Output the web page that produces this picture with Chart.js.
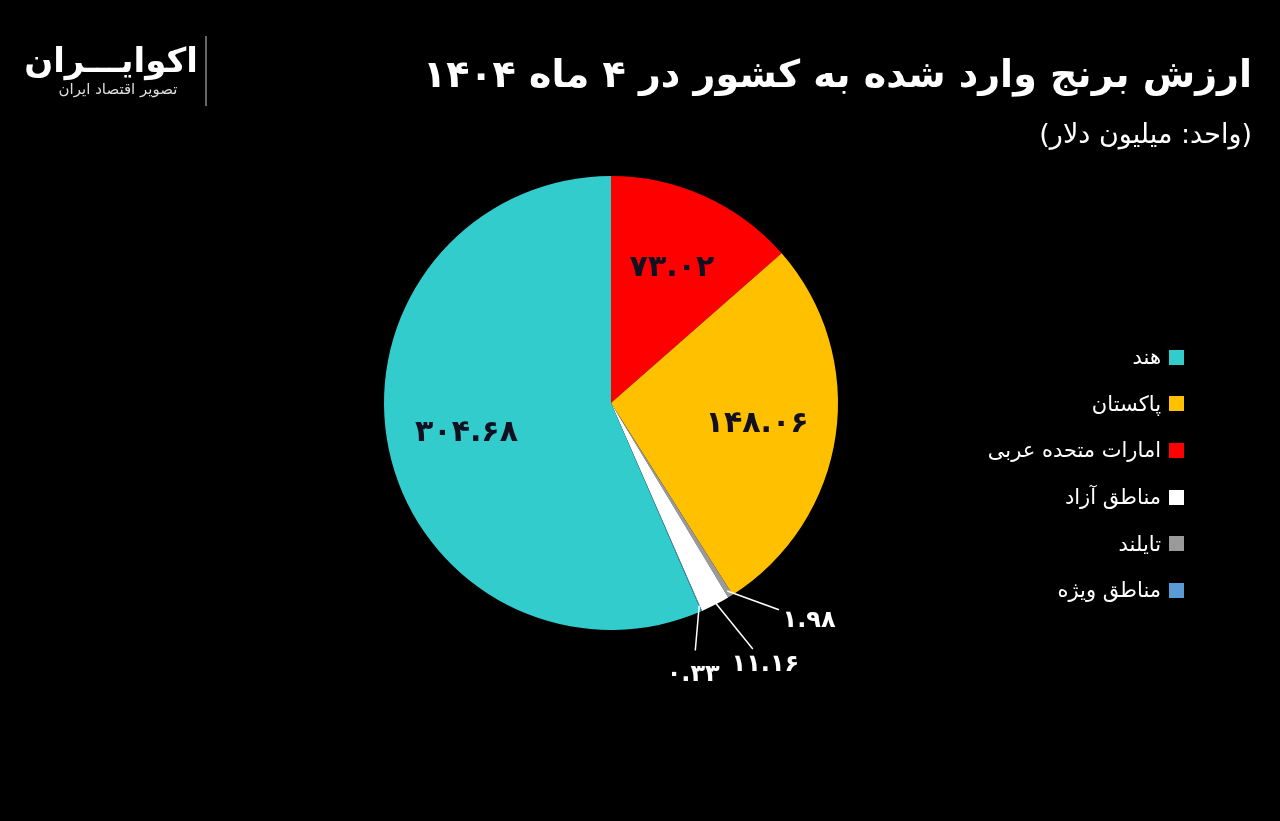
<!DOCTYPE html>
<html lang="fa">
<head>
<meta charset="UTF-8">
<title>ارزش برنج وارد شده</title>
<script src="https://cdn.jsdelivr.net/npm/chart.js"></script>
<style>
    body { margin: 0; width: 1280px; height: 821px; background: #000; overflow: hidden; font-family: 'DejaVu Sans', sans-serif; color: #fff; }
    #wrap { position: absolute; left: 0; top: 0; width: 1280px; height: 821px; }
    .title { position: absolute; right: 28px; top: 52px; font-size: 38px; font-weight: bold; direction: rtl; }
    .sub { position: absolute; right: 28px; top: 118px; font-size: 27px; direction: rtl; }
    .logo { position: absolute; left: 38px; top: 40px; width: 160px; direction: rtl; text-align: center; }
    .logo .name { font-size: 34px; font-weight: bold; }
    .logo .tag { font-size: 15px; color: #ddd; }
    .mark { position: absolute; left: 205px; top: 36px; width: 2px; height: 70px; background: #666; }
    #legend { position: absolute; right: 96px; top: 334px; direction: rtl; }
    .item { display: flex; align-items: center; height: 46.6px; font-size: 21px; }
    .box { width: 15px; height: 15px; margin-left: 8px; }
</style>
</head>
<body>
<div id="wrap"><canvas id="pie" width="1280" height="821"></canvas></div>
<div class="logo"><div class="name">اکوایـــران</div><div class="tag">تصویر اقتصاد ایران</div></div>
<div class="mark"></div>
<div class="title">ارزش برنج وارد شده به کشور در ۴ ماه ۱۴۰۴</div>
<div class="sub">(واحد: میلیون دلار)</div>
<div id="legend"></div>
<script>
    // داده‌ها به ترتیب رسم (ساعتگرد از بالا)
    var labels = ['امارات متحده عربی', 'پاکستان', 'تایلند', 'مناطق آزاد', 'مناطق ویژه', 'هند'];
    var values = [73.02, 148.06, 1.98, 11.16, 0.33, 304.68];
    var colors = ['#ff0000', '#ffc000', '#9a9a9a', '#ffffff', '#5b9bd5', '#33cccc'];
    // ترتیب راهنما
    var legendOrder = ['هند', 'پاکستان', 'امارات متحده عربی', 'مناطق آزاد', 'تایلند', 'مناطق ویژه'];
    // برچسب‌های بیرونی برای برش‌های کوچک: زاویه خط راهنما، طول خط، فاصله متن
    var outside = [false, false, true, true, true, false];
    var leadAngle = [0, 0, 20, 51, 95, 0];
    var leadLen = [0, 0, 55, 64, 45, 0];
    var textGap = [0, 0, 32, 20, 24, 0];

    function faDigits(s) {
        return String(s).replace(/[0-9]/g, function (d) { return '۰۱۲۳۴۵۶۷۸۹'[d]; });
    }

    var legend = document.getElementById('legend');
    legendOrder.forEach(function (name) {
        var i = labels.indexOf(name);
        legend.innerHTML += '<div class="item"><span class="box" style="background:' + colors[i] + '"></span>' + name + '</div>';
    });

    var valueLabels = {
        id: 'valueLabels',
        afterDatasetsDraw: function (chart) {
            var ctx = chart.ctx;
            var arcs = chart.getDatasetMeta(0).data;
            ctx.save();
            ctx.textAlign = 'center';
            ctx.textBaseline = 'middle';
            arcs.forEach(function (arc, i) {
                var mid = (arc.startAngle + arc.endAngle) / 2;
                var text = faDigits(values[i].toFixed(2));
                if (outside[i]) {
                    var r1 = arc.outerRadius - 6;
                    var sx = arc.x + Math.cos(mid) * r1, sy = arc.y + Math.sin(mid) * r1;
                    var a = leadAngle[i] * Math.PI / 180;
                    var ex = sx + Math.cos(a) * leadLen[i], ey = sy + Math.sin(a) * leadLen[i];
                    ctx.strokeStyle = '#fff';
                    ctx.lineWidth = 1.5;
                    ctx.beginPath();
                    ctx.moveTo(sx, sy);
                    ctx.lineTo(ex, ey);
                    ctx.stroke();
                    ctx.fillStyle = '#fff';
                    ctx.font = 'bold 24px "DejaVu Sans"';
                    ctx.fillText(text, ex + Math.cos(a) * textGap[i], ey + Math.sin(a) * textGap[i]);
                } else {
                    var r = arc.outerRadius * 0.65;
                    ctx.fillStyle = '#101020';
                    ctx.font = 'bold 30px "DejaVu Sans"';
                    ctx.fillText(text, arc.x + Math.cos(mid) * r, arc.y + Math.sin(mid) * r);
                }
            });
            ctx.restore();
        }
    };

    new Chart(document.getElementById('pie'), {
        type: 'pie',
        data: {
            labels: labels,
            datasets: [{ data: values, backgroundColor: colors, borderWidth: 0 }]
        },
        options: {
            responsive: false,
            animation: false,
            layout: { padding: { left: 384, right: 442, top: 176, bottom: 191 } },
            plugins: { legend: { display: false }, tooltip: { enabled: false } }
        },
        plugins: [valueLabels]
    });
</script>
</body>
</html>
